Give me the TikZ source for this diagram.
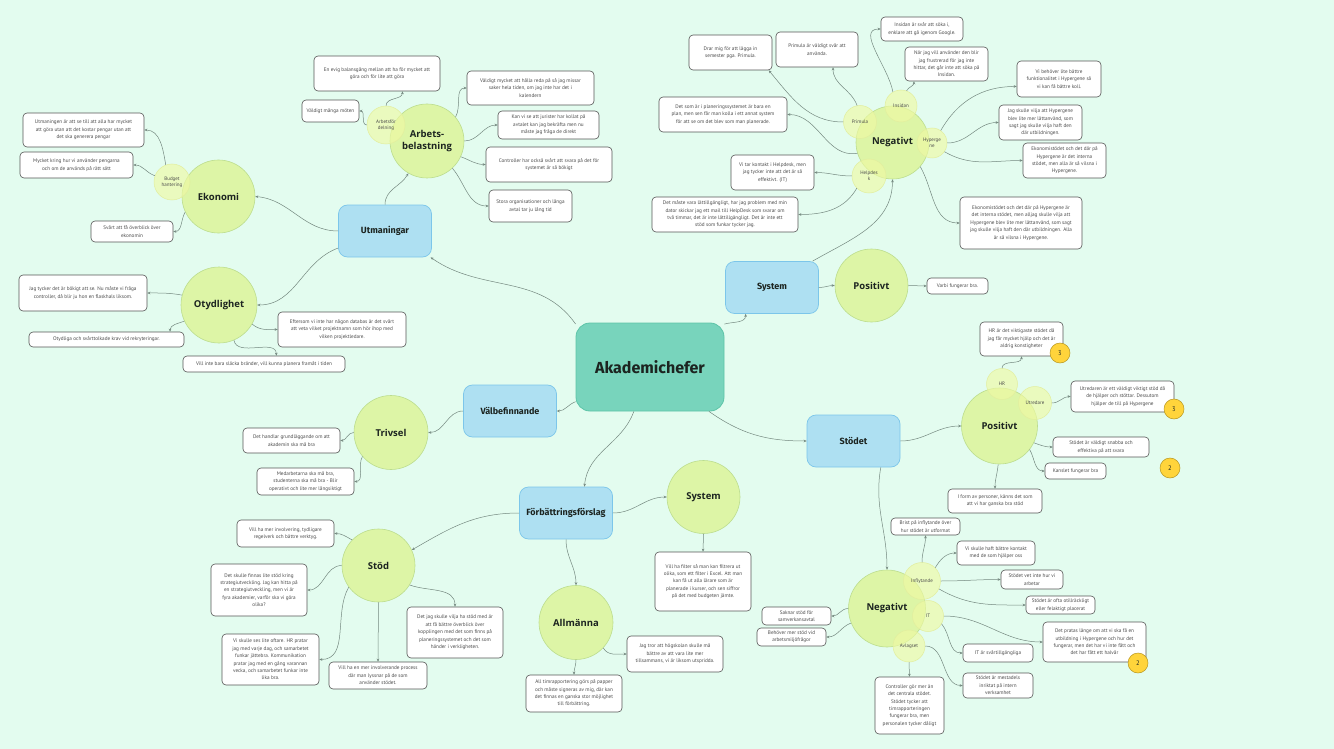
\documentclass[tikz,border=0pt]{standalone}
\usepackage{fontspec}
\setmainfont{PT Sans}
\newfontfamily\headfont{Fira Sans}
\newfontfamily\circfont{Open Sans}
\usetikzlibrary{arrows.meta}

\definecolor{bgmint}{HTML}{E3FCEF}
\definecolor{rootfill}{HTML}{78D4BC}
\definecolor{rootline}{HTML}{5DC4A8}
\definecolor{topicfill}{HTML}{AEE0F2}
\definecolor{topicline}{HTML}{7CC6EA}
\definecolor{subfill}{HTML}{DDF5A6}
\definecolor{subline}{HTML}{BCDD8E}
\definecolor{tagfill}{HTML}{EEF9A4}
\definecolor{tagline}{HTML}{E2EE9E}
\definecolor{leafline}{HTML}{555555}
\definecolor{badgefill}{HTML}{FFD43B}
\definecolor{badgeline}{HTML}{B8961E}
\definecolor{linkgray}{HTML}{74887F}
\definecolor{inkdark}{HTML}{1C2420}
\definecolor{inkleaf}{HTML}{4A4A4A}

\tikzset{
    root/.style={draw=rootline, fill=rootfill, line width=0.8pt, rounded corners=14pt,
        minimum width=148pt, minimum height=88pt, text=inkdark,
        font=\headfont\bfseries\fontsize{16}{18}\selectfont},
    topic/.style={draw=topicline, fill=topicfill, line width=0.7pt, rounded corners=9pt,
        minimum width=93pt, minimum height=52pt, text=inkdark,
        font=\headfont\bfseries\fontsize{9}{11}\selectfont},
    sub/.style={circle, draw=subline, fill=subfill, line width=0.6pt, inner sep=0pt,
        minimum size=#1pt, align=center, text=inkdark,
        font=\circfont\bfseries\fontsize{9.5}{11.5}\selectfont},
    tag/.style={circle, draw=tagline, fill=tagfill, fill opacity=0.65, text opacity=1,
        line width=0.5pt, inner sep=0pt, minimum size=#1pt, align=center, text=inkleaf,
        font=\fontsize{5}{6}\selectfont},
    leaf/.style 2 args={draw=leafline, fill=white, line width=0.6pt, rounded corners=4pt,
        minimum width=#1pt, minimum height=#2pt, inner sep=1pt, align=center, text=inkleaf,
        font=\fontsize{5.2}{7.4}\selectfont},
    badge/.style={circle, draw=badgeline, fill=badgefill, line width=0.5pt,
        minimum size=20pt, inner sep=0pt, text=inkdark, font=\fontsize{6.5}{7}\selectfont},
    link/.style={draw=linkgray, line width=0.5pt, -{Stealth[length=3pt,width=2.6pt]}}
}

\begin{document}
\begin{tikzpicture}[x=1pt, y=1pt]
\fill[bgmint] (0,0) rectangle (1334,-749);
\useasboundingbox (0,0) rectangle (1334,-749);

% ============================================================
% MITTEN OCH HUVUDGRENAR
% ============================================================
\node[root] (ak) at (650,-367) {Akademichefer};

\node[topic] (utm) at (385,-231) {Utmaningar};
\node[topic] (sys) at (772,-287.5) {System};
\node[topic] (val) at (510,-411) {Välbefinnande};
\node[topic] (sto) at (853.5,-441) {Stödet};
\node[topic] (forb) at (566,-513) {Förbättringsförslag};

% ============================================================
% UTMANINGAR
% ============================================================
\node[sub=73] (ek) at (218.5,-196.5) {Ekonomi};
\node[tag=36] (bud) at (172,-182) {Budget\\hantering};
\node[leaf={121}{34}] (ek1) at (83.5,-130) {Utmaningen är att se till att alla har mycket\\att göra utan att det kostar pengar utan att\\det ska generera pengar};
\node[leaf={113}{26}] (ek2) at (76.5,-165) {Mycket kring hur vi använder pengarna\\och om de används på rätt sätt};
\node[leaf={82}{21}] (ek3) at (132,-231.5) {Svårt att få överblick över\\ekonomin};

\node[sub=74] (ab) at (427,-141) {Arbets-\\belastning};
\node[tag=38] (adel) at (386,-125) {Arbetsför\\delning};
\node[leaf={126}{35}] (ab1) at (377,-73.5) {En evig balansgång mellan att ha för mycket att\\göra och för lite att göra};
\node[leaf={57}{22}] (ab2) at (330.5,-111) {Väldigt många möten};
\node[leaf={127}{34}] (ab3) at (530.5,-88) {Väldigt mycket att hålla reda på så jag missar\\saker hela tiden, om jag inte har det i\\kalendern};
\node[leaf={101}{28}] (ab4) at (548.5,-125) {Kan vi se att jurister har kollat på\\avtalet kan jag bekräfta men nu\\måste jag fråga de direkt};
\node[leaf={126}{35}] (ab5) at (549,-164.5) {Controller har också svårt att svara på det för\\systemet är så bökigt};
\node[leaf={83}{32}] (ab6) at (530.5,-206) {Stora organisationer och långa\\avtal tar ju lång tid};

\node[sub=76] (ot) at (219,-305) {Otydlighet};
\node[leaf={128}{36}] (ot1) at (83,-293) {Jag tycker det är bökigt att se. Nu måste vi fråga\\controller, då blir ju hon en flaskhals liksom.};
\node[leaf={155}{15}] (ot2) at (106.5,-339.5) {Otydliga och svårttolkade krav vid rekryteringar.};
\node[leaf={128}{35}] (ot3) at (342,-329.5) {Eftersom vi inte har någon databas är det svårt\\att veta vilket projektnamn som hör ihop med\\vilken projektledare.};
\node[leaf={162}{16}] (ot4) at (264,-364) {Vill inte bara släcka bränder, vill kunna planera framåt i tiden};

% ============================================================
% VÄLBEFINNANDE
% ============================================================
\node[sub=74] (tr) at (391,-432.5) {Trivsel};
\node[leaf={97}{25}] (tr1) at (291.5,-440.5) {Det handlar grundläggande om att\\akademin ska må bra};
\node[leaf={97}{27}] (tr2) at (305.5,-481.5) {Medarbetarna ska må bra,\\studenterna ska må bra - Blir\\operativt och lite mer långsiktigt};

% ============================================================
% FÖRBÄTTRINGSFÖRSLAG
% ============================================================
\node[sub=73] (stod) at (378.5,-565.5) {Stöd};
\node[leaf={97}{27}] (st1) at (285.5,-533.5) {Vill ha mer involvering, tydligare\\regelverk och bättre verktyg.};
\node[leaf={96}{52}] (st2) at (259,-590) {Det skulle finnas lite stöd kring\\strategiutveckling. Jag kan hitta på\\en strategiutveckling, men vi är\\fyra akademier, varför ska vi göra\\olika?};
\node[leaf={97}{51}] (st3) at (270.5,-659.5) {Vi skulle ses lite oftare. HR pratar\\jag med varje dag, och samarbetet\\funkar jättebra. Kommunikation\\pratar jag med en gång varannan\\vecka, och samarbetet funkar inte\\lika bra.};
\node[leaf={98}{27}] (st4) at (378,-675.5) {Vill ha en mer involverande process\\där man lyssnar på de som\\använder stödet.};
\node[leaf={96}{51}] (st5) at (455,-632.5) {Det jag skulle vilja ha stöd med är\\att få bättre överblick över\\kopplingen med det som finns på\\planeringssystemet och det som\\händer i verkligheten.};

\node[sub=73] (sysg) at (703.5,-497) {System};
\node[leaf={96}{59}] (sy1) at (703,-581.5) {Vill ha filter så man kan filtrera ut\\olika, som ett filter i Excel. Att man\\kan få ut alla lärare som är\\planerade i kurser, och sen siffror\\på det med budgeten jämte.};

\node[sub=74] (alm) at (576,-622.5) {Allmänna};
\node[leaf={96}{36}] (al1) at (675,-654) {Jag tror att högskolan skulle må\\bättre av att vara lite mer\\tillsammans, vi är liksom utspridda.};
\node[leaf={96}{37}] (al2) at (574,-693.5) {All timrapportering görs på papper\\och måste signeras av mig, där kan\\det finnas en ganska stor möjlighet\\till förbättring.};

% ============================================================
% SYSTEM
% ============================================================
\node[sub=73] (nega) at (892.5,-142.5) {Negativt};
\node[tag=33] (prim) at (860,-122) {Primula};
\node[tag=32] (insi) at (901,-106) {Insidan};
\node[tag=30] (hyp) at (932,-143) {Hyperge\\ne};
\node[tag=34] (help) at (869,-176) {Helpdes\\k};
\node[leaf={83}{35}] (ng1) at (730.5,-52.5) {Drar mig för att lägga in\\semester pga. Primula.};
\node[leaf={82}{35}] (ng2) at (817,-49.5) {Primula är väldigt svår att\\använda.};
\node[leaf={82}{24}] (ng3) at (922,-29) {Insidan är svår att söka i,\\enklare att gå igenom Google.};
\node[leaf={83}{34}] (ng4) at (946.5,-64) {När jag vill använder den blir\\jag frustrerad för jag inte\\hittar, det går inte att söka på\\Insidan.};
\node[leaf={128}{35}] (ng5) at (723,-114.5) {Det som är i planeringssystemet är bara en\\plan, men sen får man kolla i ett annat system\\för att se om det blev som man planerade.};
\node[leaf={83}{35}] (ng6) at (772.5,-172.5) {Vi tar kontakt i Helpdesk, men\\jag tycker inte att det är så\\effektivt. (IT)};
\node[leaf={146}{35}] (ng7) at (725,-214.5) {Det måste vara lättillgängligt, har jag problem med min\\dator skickar jag ett mail till HelpDesk som svarar om\\två timmar, det är inte lättillgängligt. Det är inte ett\\stöd som funkar tycker jag.};
\node[leaf={84}{36}] (ng8) at (1059,-79) {Vi behöver lite bättre\\funktionalitet i Hypergene så\\vi kan få bättre koll.};
\node[leaf={83}{35}] (ng9) at (1040.5,-122.5) {Jag skulle vilja att Hypergene\\blev lite mer lättanvänd, som\\sagt jag skulle vilja haft den\\där utbildningen.};
\node[leaf={83}{35}] (ng10) at (1064.5,-160.5) {Ekonomistödet och det där på\\Hypergene är det interna\\stödet, men alla är så vilsna i\\Hypergene.};
\node[leaf={122}{52}] (ng11) at (1021,-223) {Ekonomistödet och det där på Hypergene är\\det interna stödet, men alljag skulle vilja att\\Hypergene blev lite mer lättanvänd, som sagt\\jag skulle vilja haft den där utbildningen. Alla\\är så vilsna i Hypergene.};

\node[sub=73] (posa) at (871.5,-285.5) {Positivt};
\node[leaf={61}{16}] (sp1) at (957.5,-286) {Varbi fungerar bra.};

% ============================================================
% STÖDET
% ============================================================
\node[sub=76] (posb) at (999.5,-426) {Positivt};
\node[tag=31] (hr) at (1002,-384) {HR};
\node[tag=33] (utr) at (1035,-403) {Utredare};
\node[leaf={83}{34}] (po1) at (1021.5,-339) {HR är det viktigaste stödet då\\jag får mycket hjälp och det är\\aldrig konstigheter};
\node[leaf={103}{31}] (po2) at (1122.5,-396.5) {Utredaren är ett väldigt viktigt stöd då\\de hjälper och stöttar. Dessutom\\hjälper de till på Hypergene};
\node[leaf={96}{20}] (po3) at (1101,-447) {Stödet är väldigt snabba och\\effektiva på att svara};
\node[leaf={61}{16}] (po4) at (1075.5,-471) {Kanslet fungerar bra};
\node[leaf={94}{24}] (po5) at (995,-501) {I form av personer, känns det som\\att vi har ganska bra stöd};

\node[sub=77] (negb) at (887,-608.5) {Negativt};
\node[tag=37] (infl) at (922,-581) {Inflytande};
\node[tag=31] (it) at (928,-616) {IT};
\node[tag=32] (avl) at (909,-646) {Avlagset};
\node[leaf={69}{17}] (nn1) at (925.5,-526.5) {Brist på inflytande över\\hur stödet är utformat};
\node[leaf={78}{24}] (nn2) at (996,-553) {Vi skulle haft bättre kontakt\\med de som hjälper oss};
\node[leaf={62}{19}] (nn3) at (1032,-579.5) {Stödet vet inte hur vi\\arbetar};
\node[leaf={69}{18}] (nn4) at (1060.5,-605) {Stödet är ofta otillräckligt\\eller felaktigt placerat};
\node[leaf={103}{40}] (nn5) at (1094.5,-642) {Det pratas länge om att vi ska få en\\utbildning i Hypergene och hur det\\fungerar, men det har vi inte fått och\\det har fått ett halvår};
\node[leaf={70}{18}] (nn6) at (998,-653) {IT är svårtillgängliga};
\node[leaf={70}{25}] (nn7) at (998,-685.5) {Stödet är mestadels\\inriktat på intern\\verksamhet};
\node[leaf={69}{57}] (nn8) at (909.5,-705.5) {Controller gör mer än\\det centrala stödet.\\Stödet tycker att\\timrapporteringen\\fungerar bra, men\\personalen tycker dåligt};
\node[leaf={69}{18}] (nn9) at (796.5,-616) {Saknar stöd för\\samverkansavtal};
\node[leaf={69}{18}] (nn10) at (791.5,-637) {Behöver mer stöd vid\\arbetsmiljöfrågor};

\node[badge] (bdg1) at (1060,-353) {3};
\node[badge] (bdg2) at (1174,-409) {3};
\node[badge] (bdg3) at (1170,-468) {2};
\node[badge] (bdg4) at (1138,-663) {2};

% ============================================================
% KOPPLINGAR
% ============================================================
\draw[link] (ak.150) to[out=125,in=-35] (utm.-30);
\draw[link] (ak.205) to[out=200,in=0] (val.east);
\draw[link] (ak.250) to[out=250,in=85] (forb.55);
\draw[link] (ak.30) to[out=15,in=-90] (sys.225);
\draw[link] (ak.-37) to[out=-35,in=180] (sto.west);

\draw[link] (utm.west) to[out=180,in=-5] (ek.east);
\draw[link] (utm.north) to[out=90,in=240] (ab.240);
\draw[link] (utm.200) to[out=200,in=0] (ot.east);

\draw[link] (bud.110) to[out=100,in=0] (ek1.east);
\draw[link] (bud.160) to[out=160,in=0] (ek2.east);
\draw[link] (ek.205) to[out=240,in=0] (ek3.east);

\draw[link] (adel.north) to[out=90,in=-90] (ab1.-35);
\draw[link] (adel.west) to[out=180,in=0] (ab2.east);
\draw[link] (ab.40) to[out=60,in=180] (ab3.west);
\draw[link] (ab.0) to[out=0,in=180] (ab4.west);
\draw[link] (ab.-25) to[out=-20,in=180] (ab5.west);
\draw[link] (ab.-47) to[out=-50,in=180] (ab6.west);

\draw[link] (ot.165) to[out=170,in=0] (ot1.east);
\draw[link] (ot.205) to[out=200,in=90] (ot2.7);
\draw[link] (ot.-30) to[out=-40,in=180] (ot3.west);
\draw[link] (ot.-67) to[out=-80,in=90] (ot4.34);

\draw[link] (val.west) to[out=180,in=0] (tr.east);
\draw[link] (tr.west) to[out=180,in=0] (tr1.east);
\draw[link] (tr.220) to[out=240,in=0] (tr2.east);

\draw[link] (forb.west) to[out=180,in=30] (stod.25);
\draw[link] (forb.east) to[out=0,in=180] (sysg.west);
\draw[link] (forb.south) to[out=-90,in=90] (alm.north);
\draw[link] (sysg.south) -- (sy1.north);
\draw[link] (alm.-43) to[out=-60,in=180] (al1.west);
\draw[link] (alm.south) to[out=-90,in=90] (al2.north);

\draw[link] (stod.136) to[out=150,in=0] (st1.east);
\draw[link] (stod.180) to[out=180,in=0] (st2.east);
\draw[link] (stod.216) to[out=240,in=0] (st3.east);
\draw[link] (stod.south) -- (st4.north);
\draw[link] (stod.-32) to[out=-20,in=90] (st5.north);

\draw[link] (sys.east) to[out=0,in=180] (posa.west);
\draw[link] (posa.east) -- (sp1.west);
\draw[link] (sys.33) to[out=30,in=-90] (nega.south);

\draw[link] (prim.west) to[out=180,in=-50] (ng1.-25);
\draw[link] (prim.100) to[out=110,in=-90] (ng2.-48);
\draw[link] (insi.120) to[out=100,in=180] (ng3.west);
\draw[link] (insi.70) to[out=60,in=-90] (ng4.208);
\draw[link] (nega.197) to[out=190,in=0] (ng5.east);
\draw[link] (help.west) to[out=180,in=0] (ng6.east);
\draw[link] (help.225) to[out=240,in=0] (ng7.east);
\draw[link] (hyp.55) to[out=60,in=180] (ng8.190);
\draw[link] (hyp.east) to[out=0,in=180] (ng9.west);
\draw[link] (hyp.-35) to[out=-30,in=180] (ng10.west);
\draw[link] (nega.-41) to[out=-60,in=180] (ng11.west);

\draw[link] (sto.east) to[out=0,in=180] (posb.west);
\draw[link] (sto.-44) to[out=-100,in=90] (negb.north);

\draw[link] (hr.north) to[out=90,in=-90] (po1.south);
\draw[link] (utr.east) to[out=0,in=180] (po2.west);
\draw[link] (posb.-26) to[out=-20,in=180] (po3.west);
\draw[link] (posb.-38) to[out=-60,in=180] (po4.west);
\draw[link] (posb.-92) to[out=-95,in=90] (po5.north);

\draw[link] (negb.180) to[out=180,in=0] (nn9.east);
\draw[link] (negb.202) to[out=200,in=0] (nn10.east);
\draw[link] (infl.north) to[out=90,in=-90] (nn1.south);
\draw[link] (infl.45) to[out=60,in=180] (nn2.west);
\draw[link] (infl.east) to[out=0,in=180] (nn3.west);
\draw[link] (infl.-25) to[out=-30,in=180] (nn4.west);
\draw[link] (it.east) to[out=0,in=180] (nn5.west);
\draw[link] (it.-30) to[out=-50,in=180] (nn6.west);
\draw[link] (avl.east) to[out=0,in=180] (nn7.west);
\draw[link] (avl.south) -- (nn8.north);

\end{tikzpicture}
\end{document}
